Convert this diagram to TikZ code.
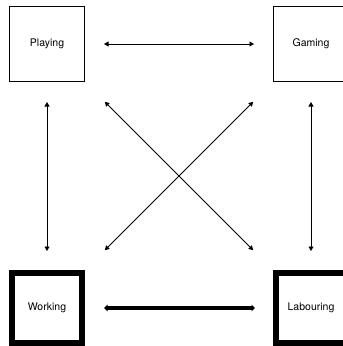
\documentclass[tikz,border=0pt]{standalone}
\usepackage{fontspec}
\setmainfont{TeX Gyre Heros}
\usetikzlibrary{arrows.meta}
\begin{document}
\begin{tikzpicture}[x=1pt,y=-1pt,
  thinbox/.style={draw, line width=1.2pt, minimum size=74.8pt, inner sep=0pt, font=\fontsize{10.5}{12}\selectfont},
  thickbox/.style={draw, line width=6pt, minimum size=70pt, inner sep=0pt, font=\fontsize{10.5}{12}\selectfont},
  thinarrow/.style={line width=0.9pt, {Triangle[length=4.5pt,width=5pt]}-{Triangle[length=4.5pt,width=5pt]}},
  thickarrow/.style={line width=3.2pt, {Triangle[length=3.5pt,width=6.5pt]}-{Triangle[length=3.5pt,width=6.5pt]}}
]
\useasboundingbox (0,0) rectangle (343,346);
\clip (0,0) rectangle (343,346);
\node[thinbox] (play) at (47,44) {Playing};
\node[thinbox] (game) at (311,44) {Gaming};
\node[thickbox] (work) at (47,308) {Working};
\node[thickbox] (lab) at (311,308) {Labouring};
\draw[thinarrow, shorten <=19pt, shorten >=19pt] (play.east) -- (game.west);
\draw[thinarrow, shorten <=20pt, shorten >=19pt] (play.south) -- (work.north);
\draw[thinarrow, shorten <=20pt, shorten >=19pt] (game.south) -- (lab.north);
\draw[thinarrow, shorten <=28pt, shorten >=28pt] (play.south east) -- (lab.north west);
\draw[thinarrow, shorten <=28pt, shorten >=28pt] (game.south west) -- (work.north east);
\draw[thickarrow, shorten <=19pt, shorten >=18pt] (work.east) -- (lab.west);
\end{tikzpicture}
\end{document}
